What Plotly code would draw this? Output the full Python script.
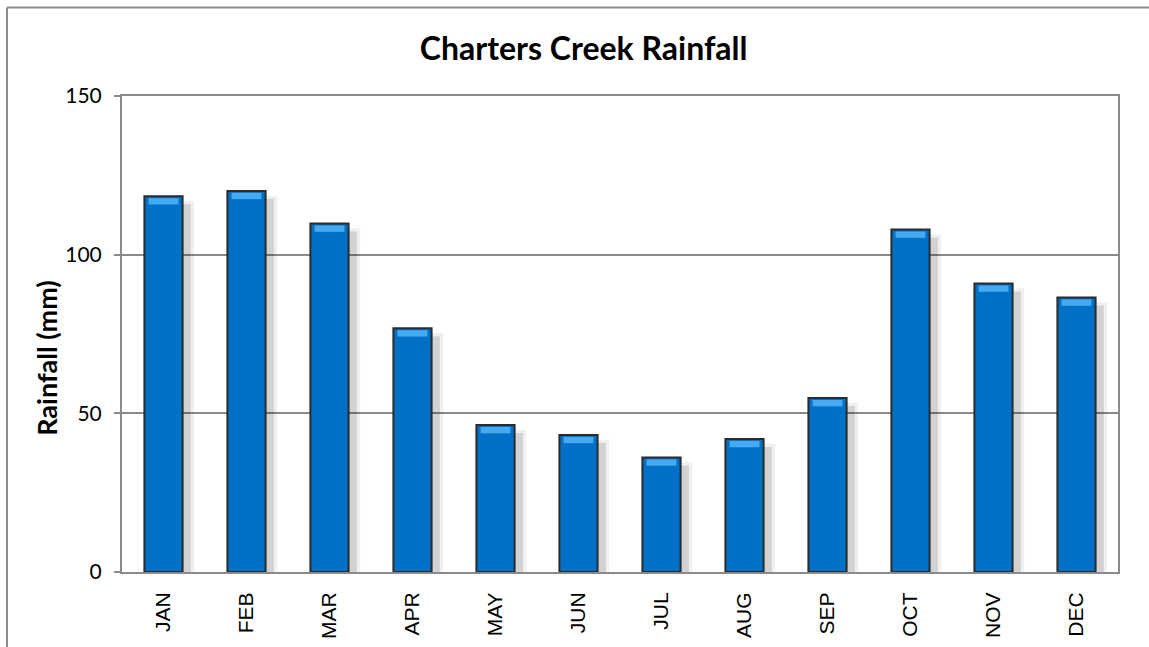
import plotly.graph_objects as go

months = ["JAN", "FEB", "MAR", "APR", "MAY", "JUN", "JUL", "AUG", "SEP", "OCT", "NOV", "DEC"]
rainfall = [118.4, 120.1, 109.8, 76.8, 46.3, 43.2, 36.1, 41.9, 54.8, 107.9, 90.9, 86.5]
y_ticks = [0, 50, 100, 150]

BAR_W = 0.46
fig = go.Figure()

# soft drop shadow (layers)
fig.add_trace(go.Bar(x=months, y=[v - 1.5 for v in rainfall], width=BAR_W + 0.1,
                     offset=-BAR_W / 2 + 0.04,
                     marker=dict(color="rgba(0,0,0,0.06)", line=dict(width=0)),
                     hoverinfo="skip", showlegend=False))
fig.add_trace(go.Bar(x=months, y=[v - 2.5 for v in rainfall], width=BAR_W + 0.04,
                     offset=-BAR_W / 2 + 0.06,
                     marker=dict(color="rgba(0,0,0,0.12)", line=dict(width=0)),
                     hoverinfo="skip", showlegend=False))
# main bars
fig.add_trace(go.Bar(x=months, y=rainfall, width=BAR_W,
                     marker=dict(color="#0071C6", line=dict(color="#2b2b2b", width=2)),
                     showlegend=False))
# top bevel highlight
fig.add_trace(go.Bar(x=months, y=[2.0] * len(rainfall), base=[v - 2.6 for v in rainfall],
                     width=BAR_W - 0.1,
                     marker=dict(color="#45AAF2", line=dict(width=0)),
                     hoverinfo="skip", showlegend=False))

fig.update_layout(
    barmode="overlay",
    width=1149, height=647,
    margin=dict(l=122, r=31, t=96, b=75),
    paper_bgcolor="white", plot_bgcolor="white",
    title=dict(text="<b>Charters Creek Rainfall</b>", x=0.508, xref="container",
               y=0.925, yref="container", xanchor="center", yanchor="middle",
               font=dict(family="Lato", size=32, color="black")),
    xaxis=dict(type="category", range=[-0.5, 11.5], showgrid=False, automargin=False,
               showline=True, linecolor="#8a8a8a", linewidth=2, mirror=True,
               ticks="", tickangle=-90, ticklabelstandoff=10,
               tickfont=dict(family="Liberation Sans, Arial", size=21, color="black")),
    yaxis=dict(range=[0, 150], tickvals=y_ticks, showgrid=True, gridcolor="#8a8a8a",
               gridwidth=1.5, zeroline=False, automargin=False,
               showline=True, linecolor="#8a8a8a", linewidth=2, mirror=True,
               ticks="outside", ticklen=6, tickcolor="#8a8a8a", tickwidth=1.5,
               ticklabelstandoff=8,
               tickfont=dict(family="Lato", size=21, color="black")),
    annotations=[dict(text="<b>Rainfall (mm)</b>", textangle=-90, xref="paper", yref="paper",
                      x=-0.0753, y=0.45, showarrow=False, xanchor="center", yanchor="middle",
                      font=dict(family="Lato", size=27, color="black"))],
    shapes=[
        dict(type="line", xref="paper", yref="paper", x0=-0.1155, x1=-0.1155, y0=-0.2, y1=1.186,
             line=dict(color="#8a8a8a", width=2)),
        dict(type="line", xref="paper", yref="paper", x0=-0.1155, x1=1.1, y0=1.186, y1=1.186,
             line=dict(color="#8a8a8a", width=2)),
    ],
)

fig.write_html("out.html")
